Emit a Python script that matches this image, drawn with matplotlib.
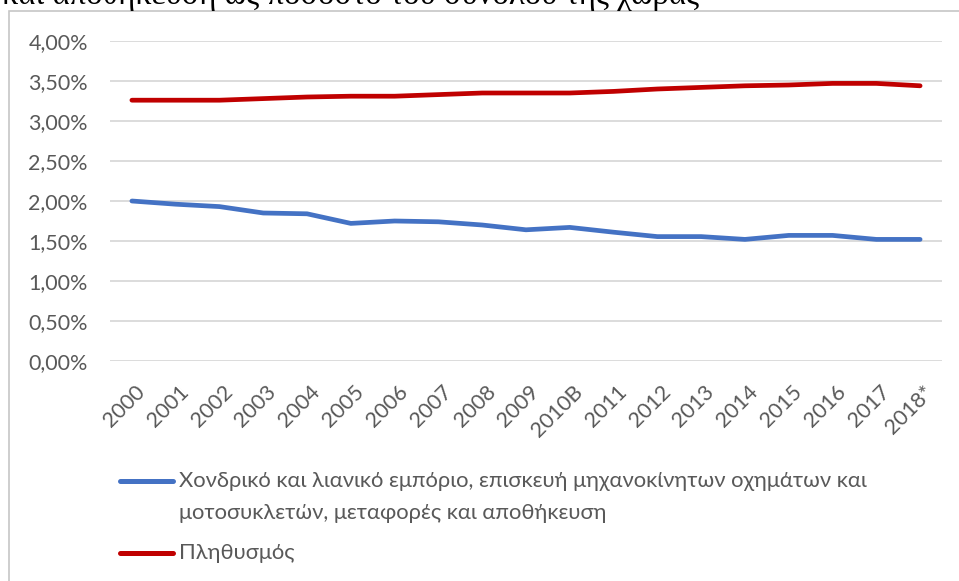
import matplotlib
matplotlib.use("Agg")
import matplotlib.pyplot as plt
import matplotlib.patches as patches
import matplotlib.transforms as mtransforms
from matplotlib.lines import Line2D
from matplotlib.ticker import FuncFormatter

years = ["2000", "2001", "2002", "2003", "2004", "2005", "2006", "2007", "2008",
         "2009", "2010B", "2011", "2012", "2013", "2014", "2015", "2016", "2017", "2018*"]

# share of country total, in %
trade = [2.00, 1.96, 1.93, 1.85, 1.84, 1.72, 1.75, 1.74, 1.70, 1.64,
         1.67, 1.61, 1.555, 1.555, 1.52, 1.57, 1.57, 1.52, 1.52]
population = [3.26, 3.26, 3.26, 3.28, 3.30, 3.31, 3.31, 3.33, 3.35, 3.35,
              3.35, 3.37, 3.40, 3.42, 3.44, 3.45, 3.47, 3.47, 3.44]

trade_label = ["Χονδρικό και λιανικό εμπόριο, επισκευή μηχανοκίνητων οχημάτων και",
               "μοτοσυκλετών, μεταφορές και αποθήκευση"]
pop_label = "Πληθυσμός"
title_tail = "και αποθήκευση ως ποσοστό του συνόλου της χώρας"

W, H = 959, 581
plt.rcParams['font.family'] = ['Lato', 'DejaVu Sans']

fig = plt.figure(figsize=(W / 100, H / 100), dpi=100)

def fx(px):
    return px / W

def fy(py):
    return 1 - py / H

# caption above the chart box, cut off by the top edge as in the source
fig.text(fx(2), fy(4), title_tail, fontsize=23.6, family=['Liberation Serif'],
         va='baseline', ha='left', color='black')

# chart border
fig.add_artist(patches.Rectangle((fx(9), -0.1), 1.2, fy(11) + 0.1, transform=fig.transFigure,
                                 fill=False, edgecolor='#c6c6c6', lw=1.2))

ax = fig.add_axes([fx(110), fy(361), fx(942) - fx(110), fy(41) - fy(361)])
x = list(range(len(years)))
l1, = ax.plot(x, trade, color='#4472C4', lw=3.4, solid_capstyle='round', solid_joinstyle='round')
l2, = ax.plot(x, population, color='#C00000', lw=3.4, solid_capstyle='round', solid_joinstyle='round')

ax.set_xlim(-0.5, len(years) - 0.5)
ax.set_ylim(0, 4)
ax.set_yticks([0, 0.5, 1, 1.5, 2, 2.5, 3, 3.5, 4])
ax.yaxis.set_major_formatter(FuncFormatter(lambda v, p: f"{v:.2f}".replace('.', ',') + '%'))
ax.grid(axis='y', color='#d9d9d9', lw=1.3)
ax.set_axisbelow(True)
for s in ax.spines.values():
    s.set_visible(False)

ax.set_xticks(x)
ax.set_xticklabels(years, rotation=45, ha='right', rotation_mode='anchor')
ax.tick_params(axis='both', length=0, labelsize=15.5, labelcolor='#595959')
ax.tick_params(axis='y', pad=16)
ax.tick_params(axis='x', pad=15)
offset = mtransforms.ScaledTranslation(3 / 100, 0, fig.dpi_scale_trans)
for lab in ax.get_xticklabels():
    lab.set_transform(lab.get_transform() + offset)

# legend below the plot
for line, ypx in [(l1, 481), (l2, 553)]:
    fig.add_artist(Line2D([fx(120), fx(173)], [fy(ypx), fy(ypx)], transform=fig.transFigure,
                          color=line.get_color(), lw=3.6, solid_capstyle='round'))
fig.text(fx(179), fy(481), trade_label[0], fontsize=15.8, color='#595959', va='center')
fig.text(fx(179), fy(513), trade_label[1], fontsize=15.8, color='#595959', va='center')
fig.text(fx(179), fy(553), pop_label, fontsize=15.8, color='#595959', va='center')

fig.savefig("out.png", dpi=100, facecolor='white')
